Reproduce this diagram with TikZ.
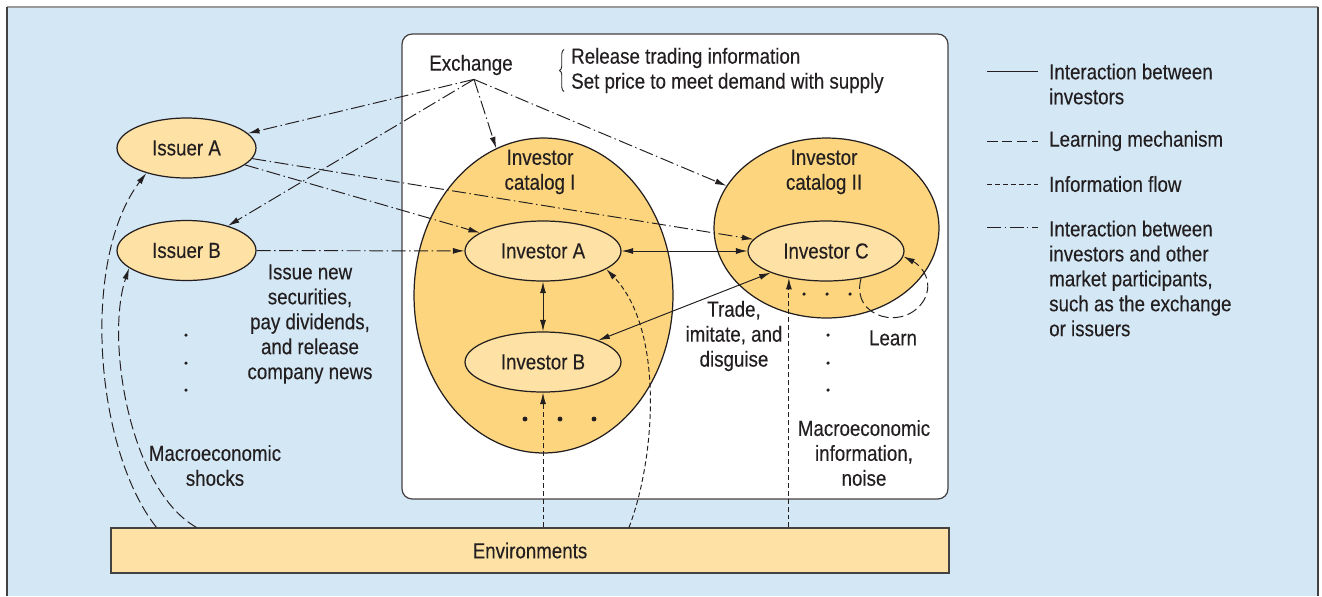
\documentclass[tikz,border=0pt]{standalone}
\usepackage{fontspec}
\setmainfont{Liberation Sans}[FakeStretch=0.86,FakeBold=0.25]
\usetikzlibrary{shapes.geometric,arrows.meta,calc,decorations.pathreplacing}
\definecolor{bgblue}{HTML}{D4E7F5}
\definecolor{catfill}{HTML}{FCD57E}
\definecolor{nodefill}{HTML}{FEE1A4}
\definecolor{ink}{HTML}{231F20}

\begin{document}
\begin{tikzpicture}[x=0.02cm,y=-0.02cm,>={Latex[length=6.5pt,width=3.4pt]},
  every node/.style={font=\fontsize{12.4}{14.2}\selectfont,text=ink},
  agent/.style={ellipse,draw=ink,line width=0.7pt,fill=nodefill,inner sep=0pt,
    minimum width=2.78cm,minimum height=1.2cm},
  investor/.style={minimum width=3.12cm},
  catalog/.style={ellipse,draw=ink,line width=0.7pt,fill=catfill,inner sep=0pt},
  link/.style={draw=ink,line width=0.55pt},
  learnln/.style={link,dash pattern=on 6pt off 2.5pt},
  infoln/.style={link,dash pattern=on 2.8pt off 1.7pt},
  otherln/.style={link,dash pattern=on 8pt off 2pt on 0.8pt off 2pt},
  legend/.style={anchor=west,align=left}]
\useasboundingbox (0,0) rectangle (1322,596);

% backdrop
\fill[bgblue] (7,7) rectangle (1318,596);
\draw[gray!80,line width=1.2pt] (7,7) -- (1318,7);
\draw[ink!85,line width=1.2pt] (7,7) -- (7,596) (1318,7) -- (1318,596);

% market panel and environment bar
\node[draw=ink!85,line width=0.7pt,fill=white,rounded corners=0.2cm,
  minimum width=10.92cm,minimum height=9.3cm] (mkt) at (675,266.5) {};
\node[draw=ink!85,line width=0.7pt,fill=nodefill,minimum width=16.76cm,
  minimum height=0.9cm] (env) at (530,550.5) {Environments};

% catalogs
\node[catalog,minimum width=5.18cm,minimum height=6.3cm] (catI) at (543.5,295.5) {};
\node[catalog,minimum width=4.5cm,minimum height=3.6cm] (catII) at (826.5,228) {};
\node[align=center] (catIlbl) at (540,172) {Investor\\catalog I};
\node[align=center] (catIIlbl) at (824,172) {Investor\\catalog II};

% agents
\node[agent,investor] (invA) at (543,251) {Investor A};
\node[agent,investor] (invB) at (543,362) {Investor B};
\node[agent,investor] (invC) at (826,251) {Investor C};
\node[agent] (issA) at (186.5,148) {Issuer A};
\node[agent] (issB) at (186.5,250.5) {Issuer B};

% exchange
\node (exch) at (471,65) {Exchange};
\coordinate (exsrc) at ($(exch.south)+(3,-2)$);
\node[legend] (rules) at (565,70.5) {Release trading information\\Set price to meet demand with supply};
\draw[ink,line width=0.5pt,decorate,decoration={brace,amplitude=2.5pt}]
  ($(rules.west)+(-1,21)$) -- ($(rules.west)+(-1,-21)$);

\draw[otherln,->] (exsrc) -- (issA);
\draw[otherln,->] (exsrc) -- (issB);
\draw[otherln,->] (exsrc) -- (catI);
\draw[otherln,->] (exsrc) -- (catII);
\draw[otherln,->] (issA) -- (invA);
\draw[otherln,->] (issA) -- (invC);
\draw[otherln,->] (issB) -- (invA);

% trading between investors
\draw[link,<->] (invA) -- (invC);
\draw[link,<->] (invA) -- (invB);
\draw[link,<->] (invB) -- (invC);

% information from the environment
\draw[infoln,->] (env.north -| invB) -- (invB);
\draw[infoln,->] (env.north -| invC.216) -- (invC.216);
\draw[infoln,->] ($(env.north)+(99,0)$) .. controls (655,460) and (665,330) .. (invA.344);

% learning
\draw[learnln,->] (invC.322) .. controls (850,318) and (905,332) .. (924,300)
  .. controls (934,282) and (922,266) .. (invC.356);
\draw[learnln,->] ($(env.north west)+(46,0)$) .. controls (95,450) and (80,260) .. (issA.212);
\draw[learnln,->] ($(env.north west)+(86,0)$) .. controls (130,490) and (105,340) .. (issB.197);

% more agents
\foreach \y in {335,363,390} {
  \fill[ink] (186,\y) circle (1pt);
  \fill[ink] (828,\y) circle (1pt);
}
\foreach \x in {525,560,594} \fill[ink] (\x,419) circle (1.4pt);
\foreach \x in {804,827,850} \fill[ink] (\x,294) circle (1pt);

% labels
\node[align=center] (issuetxt) at (310,324) {Issue new\\securities,\\pay dividends,\\and release\\company news};
\node[align=center] (tradetxt) at (734,336) {Trade,\\imitate, and\\disguise};
\node (learntxt) at (893,338) {Learn};
\node[align=center] (macinfo) at (864,453) {Macroeconomic\\information,\\noise};
\node[align=center] (macshock) at (215,465.5) {Macroeconomic\\shocks};

% key
\node[legend] (lg1) at (1043,84) {Interaction between\\investors};
\node[legend] (lg2) at (1043,141) {Learning mechanism};
\node[legend] (lg3) at (1043,184) {Information flow};
\node[legend] (lg4) at (1043,278.5) {Interaction between\\investors and other\\market participants,\\such as the exchange\\or issuers};
\draw[link] (987,71) -- (1038,71);
\draw[learnln] (987,141) -- (1038,141);
\draw[infoln] (987,184) -- (1038,184);
\draw[otherln] (987,227) -- (1038,227);
\end{tikzpicture}
\end{document}
